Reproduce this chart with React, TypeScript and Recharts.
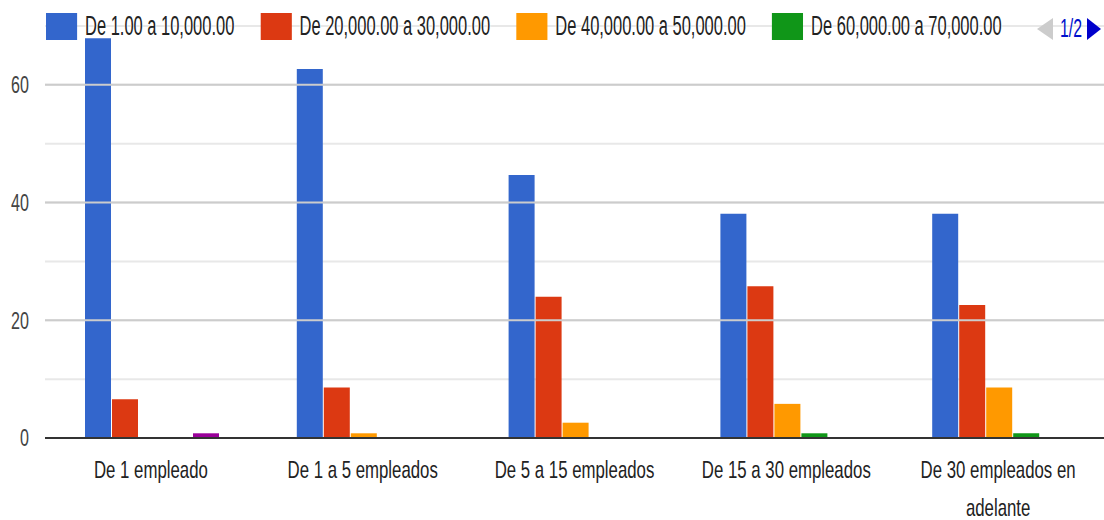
import React from 'react';
import { BarChart, Bar, XAxis, YAxis, CartesianGrid, ReferenceLine } from 'recharts';

const categories = [
  'De 1 empleado',
  'De 1 a 5 empleados',
  'De 5 a 15 empleados',
  'De 15 a 30 empleados',
  'De 30 empleados en adelante',
];

const seriesNames = [
  'De 1.00 a 10,000.00',
  'De 20,000.00 a 30,000.00',
  'De 40,000.00 a 50,000.00',
  'De 60,000.00 a 70,000.00',
  'De 80,000.00 en adelante',
];

const COLORS = ['#3366cc', '#dc3912', '#ff9900', '#109618', '#990099'];

const range1 = [67.9, 62.7, 44.7, 38.1, 38.1];
const range2 = [6.6, 8.6, 24, 25.8, 22.6];
const range3 = [0, 0.8, 2.6, 5.8, 8.6];
const range4 = [0, 0, 0, 0.8, 0.8];
const range5 = [0.8, 0, 0, 0, 0];

const yTicks = [0, 10, 20, 30, 40, 50, 60, 70];
const yLabels = [0, 20, 40, 60];

// legend shows the first page only
const legendPage = '1/2';
const legendCount = 4;

const allSeries = [range1, range2, range3, range4, range5];

const data = categories.map((name, i) => {
  const row: Record<string, string | number> = { name };
  allSeries.forEach((s, k) => {
    row[`s${k}`] = s[i];
  });
  return row;
});

const FONT = "Arial, 'Liberation Sans', sans-serif";

function wrap(label: string, max: number): string[] {
  const lines: string[] = [];
  let cur = '';
  label.split(' ').forEach((w) => {
    const next = cur ? `${cur} ${w}` : w;
    if (next.length > max && cur) {
      lines.push(cur);
      cur = w;
    } else {
      cur = next;
    }
  });
  if (cur) lines.push(cur);
  return lines;
}

const XTick = ({ x, y, payload }: any) => {
  const lines = wrap(payload.value, 20);
  return (
    <g transform={`translate(${x},${y})`}>
      <text transform="scale(0.7,1)" textAnchor="middle" fontSize={24} fill="#222" fontFamily={FONT}>
        {lines.map((l, i) => (
          <tspan key={i} x={0} y={40 + i * 38}>
            {l}
          </tspan>
        ))}
      </text>
    </g>
  );
};

const YTick = ({ x, y, payload }: any) => {
  if (!yLabels.includes(payload.value)) return <g />;
  return (
    <g transform={`translate(${x - 16},${y})`}>
      <text transform="scale(0.7,1)" textAnchor="end" dy="0.36em" fontSize={23} fill="#444" fontFamily={FONT}>
        {payload.value}
      </text>
    </g>
  );
};

function LegendRow() {
  return (
    <div
      style={{
        position: 'absolute',
        left: 46,
        top: 13,
        display: 'flex',
        alignItems: 'center',
        transform: 'scaleX(0.61)',
        transformOrigin: 'left top',
        whiteSpace: 'nowrap',
        fontFamily: FONT,
        fontSize: 27,
        lineHeight: '27px',
        color: '#222',
      }}
    >
      {seriesNames.slice(0, legendCount).map((n, i) => (
        <div key={n} style={{ display: 'flex', alignItems: 'center', marginRight: 43 }}>
          <div style={{ width: 51, height: 27, background: COLORS[i], marginRight: 13 }} />
          <span style={{ textShadow: '0 0 2px #fff, 0 0 2px #fff, 0 0 3px #fff' }}>{n}</span>
        </div>
      ))}
    </div>
  );
}

function Pager() {
  return (
    <svg width={80} height={50} style={{ position: 'absolute', left: 1030, top: 0 }}>
      <polygon points="7,29 23,18 23,40" fill="#cccccc" />
      <g transform="translate(30,37) scale(0.61,1)">
        <text x={0} y={0} fontSize={26} fill="#0011cc" fontFamily={FONT}>
          {legendPage}
        </text>
      </g>
      <polygon points="57,18 71,29 57,40" fill="#0000cc" />
    </svg>
  );
}

export default function App() {
  return (
    <div style={{ position: 'absolute', left: 0, top: 0, width: 1104, height: 520, background: '#fff' }}>
      <BarChart
        width={1104}
        height={520}
        data={data}
        margin={{ top: 26, right: 0, bottom: 0, left: 0 }}
        barCategoryGap={40}
        barGap={1}
      >
        <CartesianGrid vertical={false} stroke="#e8e8e8" strokeWidth={2} />
        {yLabels
          .filter((v) => v > 0)
          .map((v) => (
            <ReferenceLine key={v} y={v} stroke="#cccccc" strokeWidth={2} />
          ))}
        <XAxis
          dataKey="name"
          height={82}
          tickSize={0}
          tickMargin={0}
          tickLine={false}
          axisLine={{ stroke: '#333', strokeWidth: 2 }}
          tick={<XTick />}
          interval={0}
        />
        <YAxis
          width={45}
          domain={[0, 70]}
          ticks={yTicks}
          tickSize={0}
          tickMargin={0}
          tickLine={false}
          axisLine={false}
          tick={<YTick />}
          interval={0}
        />
        {allSeries.map((_, k) => (
          <Bar key={k} dataKey={`s${k}`} name={seriesNames[k]} fill={COLORS[k]} isAnimationActive={false} />
        ))}
      </BarChart>
      <LegendRow />
      <Pager />
    </div>
  );
}
